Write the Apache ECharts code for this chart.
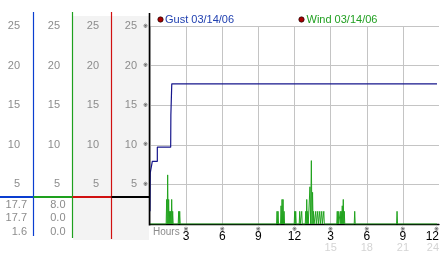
<!DOCTYPE html>
<html><head><meta charset="utf-8">
<script src="https://cdn.jsdelivr.net/npm/echarts@6/dist/echarts.min.js"></script>
<style>html,body{margin:0;padding:0;background:#fff}#c{width:442px;height:253px}</style>
</head><body><div id="c"></div>
<script>
// ---- data (minutes since midnight, value) ----
const gustData = [[0,1.6],[1.5,6.5],[11.5,7.9],[36.5,7.9],[36.5,9.7],[103,9.7],[104,13.8],[108.5,17.7],[1430,17.7]];
const windData = [
 [0,0],
 [80.5,0],[83,3.1],[85.5,0],[88,6.2],[90.5,0],[93,3.1],[95.5,0],[98,1.6],[100.5,0],[103,1.6],[105.5,0],[108,3.1],[110.5,0],[113,1.6],[115.5,0],
 [140.5,0],[143,1.6],[145.5,0],[148,1.6],[150.5,0],
 [630.5,0],[633,1.6],[635.5,0],[638,1.6],[640.5,0],
 [650.5,0],[653,2.3],[655.5,0],[658,3.1],[660.5,0],[663,3.1],[665.5,0],[668,1.6],[670.5,0],
 [718.5,0],[721,1.6],[723.5,0],[726,1.6],[728.5,0],
 [743.5,0],[746,1.6],[748.5,0],[753.5,0],[756,1.6],[758.5,0],
 [773.5,0],[776,1.6],[778.5,0],[781,3.1],[783.5,0],[786,1.6],[788.5,0],
 [794.5,0],[797,4.7],[800.5,0],[804,8.0],[807,0],[810,4.0],[812.5,0],[815,1.6],[817.5,0],
 [823.5,0],[826,1.6],[828.5,0],[833.5,0],[836,1.6],[838.5,0],[843.5,0],[846,1.6],[848.5,0],
 [853.5,0],[856,1.6],[858.5,0],[863.5,0],[866,1.6],[868.5,0],
 [930.5,0],[933,1.6],[935.5,0],[938,1.6],[940.5,0],[945.5,0],[948,1.6],[950.5,0],[953,1.6],[955.5,0],
 [958,2.3],[960.5,0],[963,3.1],[965.5,0],[968,1.6],[970.5,0],
 [1017.5,0],[1020,1.6],[1022.5,0],
 [1228.5,0],[1231,1.6],[1233.5,0],
 [1430,0]
];
const hourLabels = {180:'3',360:'6',540:'9',720:'12',900:'3',1080:'6',1260:'9',1440:'12'};
const hour24Labels = {900:'15',1080:'18',1260:'21',1440:'24'};
const gustReadout = ['17.7','17.7','1.6'];
const windReadout = ['8.0','0.0','0.0'];
const legendNames = ['Gust 03/14/06','Wind 03/14/06'];

// ---- chart ----
const FONT = '"Liberation Sans", Arial, sans-serif';
const LBL = '#8c8c8c';
const chart = echarts.init(document.getElementById('c'), null, {renderer:'canvas'});
function colAxis(offset, margin){
  return {type:'value', position:'left', min:0, max:25, interval:5, offset:offset,
    axisLine:{show:false}, axisTick:{show:false}, splitLine:{show:false},
    axisLabel:{margin:margin, color:LBL, fontSize:11, fontFamily:FONT, formatter:v=> v===0?'':String(v)}};
}
const colors = {blue:'#0a3ed0', green:'#1ea01e', red:'#d01010', black:'#000'};
function vline(x,y1,y2,c,w){return {type:'line', z:50, shape:{x1:x,y1:y1,x2:x,y2:y2}, style:{stroke:c, lineWidth:w||1}};}
function hline(x1,x2,y,c,w){return {type:'line', z:50, shape:{x1:x1,y1:y,x2:x2,y2:y}, style:{stroke:c, lineWidth:w||1}};}
function txt(x,y,s,c,align,size){return {type:'text', z:50, x:x, y:y, style:{text:s, fill:c, font:(size||11)+'px '+FONT, textAlign:align||'left', textVerticalAlign:'middle'}};}

const rows = [204.5, 218, 231.5];
const graphics = [
  {type:'rect', z:-10, shape:{x:73, y:16, width:76, height:224}, style:{fill:'#f3f3f3'}},
  vline(33.5,12,236,colors.blue,1.2),
  vline(72.5,12,238,colors.green,1.2),
  vline(111.5,12,239,colors.red,1.2),
  vline(149.5,13,225.5,colors.black,1.6),
  hline(0,33.5,197,colors.blue,2),
  hline(33.5,72.5,197,colors.green,2),
  hline(72.5,111.5,197,colors.red,2),
  hline(111.5,149.5,197,colors.black,2),
  txt(153,232,'Hours',LBL,'left',10),
  {type:'circle', z:50, shape:{cx:160.5, cy:19.5, r:2.7}, style:{fill:'#a80000', stroke:'#000', lineWidth:0.6}},
  txt(165,20,legendNames[0],'#2040b0','left',11),
  {type:'circle', z:50, shape:{cx:301.5, cy:19.5, r:2.7}, style:{fill:'#a80000', stroke:'#000', lineWidth:0.6}},
  txt(306.5,20,legendNames[1],'#22a022','left',11)
];
gustReadout.forEach((s,i)=>graphics.push(txt(27,rows[i],s,LBL,'right',11)));
windReadout.forEach((s,i)=>graphics.push(txt(65.5,rows[i],s,LBL,'right',11)));

chart.setOption({
  animation:false,
  grid:{left:150, right:2.4, top:26, bottom:28, containLabel:false},
  xAxis:{type:'value', min:0, max:1440, interval:180,
    axisLine:{lineStyle:{color:'#000', width:1.3}}, axisTick:{show:false},
    splitLine:{show:true, showMaxLine:false, lineStyle:{color:'#c4c4c4', width:1}},
    axisLabel:{margin:2, showMaxLabel:true, alignMaxLabel:'right',
      formatter:v=>{ if(!hourLabels[v]) return ''; let s='{m|※}\n{n|'+hourLabels[v]+'}'; if(hour24Labels[v]) s+='\n{g|'+hour24Labels[v]+'}'; return s; },
      rich:{m:{fontSize:6, lineHeight:6, color:'#222', fontFamily:'"DejaVu Sans", sans-serif'},
            n:{fontSize:12, lineHeight:10, color:'#000', fontFamily:FONT},
            g:{fontSize:11, lineHeight:11, color:'#d4d4d4', fontFamily:FONT}}}},
  yAxis:[
    {type:'value', position:'left', min:0, max:25, interval:5, offset:0,
      axisLine:{show:false}, axisTick:{show:false},
      splitLine:{lineStyle:{color:'#c4c4c4', width:1}},
      axisLabel:{margin:2, fontSize:6, color:'#222', fontFamily:'"DejaVu Sans", sans-serif', formatter:v=> v===0?'':'※'}},
    colAxis(0,13), colAxis(39,12), colAxis(78,12), colAxis(117,13)
  ],
  graphic:graphics,
  series:[
    {name:legendNames[1], type:'line', data:windData, yAxisIndex:0, symbol:'none', z:3,
      lineStyle:{color:'#22a31f', width:1}},
    {name:legendNames[0], type:'line', data:gustData, yAxisIndex:0, symbol:'none', z:4,
      lineStyle:{color:'#16168c', width:1.2}}
  ]
});
</script></body></html>
